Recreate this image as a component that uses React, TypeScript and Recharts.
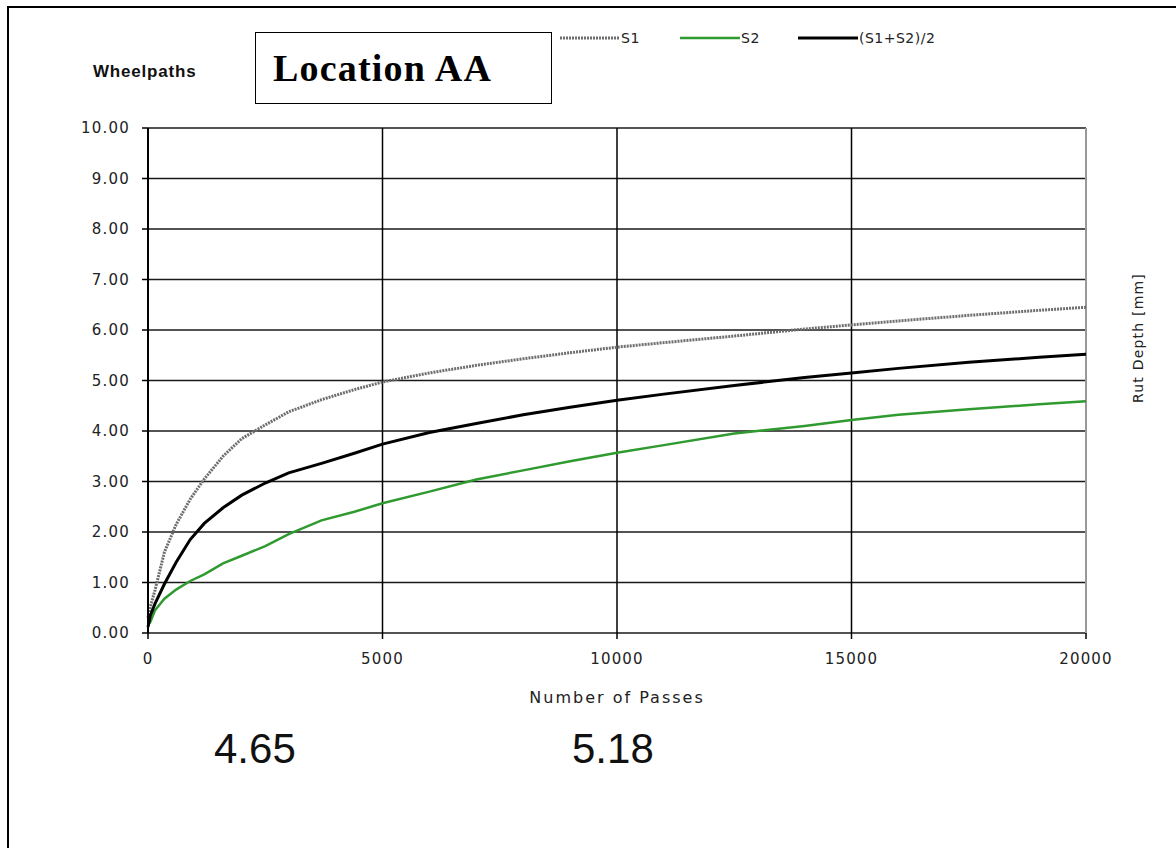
import React from 'react';
import { LineChart, Line, XAxis, YAxis, CartesianGrid, ReferenceLine } from 'recharts';

const passes = [0, 50, 150, 350, 600, 900, 1200, 1600, 2000, 2500, 3000, 3700, 4400, 5000, 6000, 7000, 8000, 9000, 10000, 11000, 12500, 14000, 15000, 16000, 17500, 19000, 20000];
const s1 = [0.3, 0.52, 0.85, 1.6, 2.15, 2.65, 3.05, 3.5, 3.85, 4.12, 4.38, 4.62, 4.82, 4.97, 5.15, 5.3, 5.43, 5.55, 5.66, 5.75, 5.88, 6.02, 6.1, 6.18, 6.29, 6.39, 6.45];
const s2 = [0.15, 0.22, 0.45, 0.68, 0.86, 1.03, 1.16, 1.38, 1.53, 1.72, 1.96, 2.23, 2.4, 2.57, 2.8, 3.04, 3.22, 3.4, 3.57, 3.72, 3.95, 4.1, 4.22, 4.32, 4.43, 4.53, 4.59];
const avg = [0.12, 0.35, 0.58, 0.97, 1.4, 1.85, 2.17, 2.48, 2.73, 2.97, 3.17, 3.36, 3.56, 3.74, 3.97, 4.15, 4.32, 4.47, 4.61, 4.73, 4.9, 5.06, 5.15, 5.24, 5.36, 5.46, 5.52];

const xTicks = [0, 5000, 10000, 15000, 20000];
const yTicks = [0, 1, 2, 3, 4, 5, 6, 7, 8, 9, 10];
const summary = ['4.65', '5.18'];

const data = passes.map((p, i) => ({ passes: p, s1: s1[i], s2: s2[i], avg: avg[i] }));

const tickFont = { fontFamily: 'DejaVu Sans', fontSize: 15, fill: '#222', letterSpacing: 1.2 };
const smallFont: React.CSSProperties = { fontFamily: 'DejaVu Sans', fontSize: 14, color: '#222', letterSpacing: 0.5 };

const S1_STYLE = { stroke: '#6e6e6e', strokeWidth: 3, strokeDasharray: '2 1' };
const S2_STYLE = { stroke: '#2f9a2f', strokeWidth: 2.5, strokeDasharray: undefined as string | undefined };
const AVG_STYLE = { stroke: '#000', strokeWidth: 3, strokeDasharray: undefined as string | undefined };

const LegendItem = ({ left, label, style }: { left: number; label: string; style: any }) => (
  <div style={{ position: 'absolute', left, top: 28, display: 'flex', alignItems: 'center', height: 20 }}>
    <svg width={60} height={20}>
      <line x1={0} x2={60} y1={10} y2={10} {...style} />
    </svg>
    <span style={{ ...smallFont, marginLeft: 1 }}>{label}</span>
  </div>
);

export default function App() {
  return (
    <div style={{ position: 'absolute', left: 0, top: 0, width: 1176, height: 848, background: '#fff', overflow: 'hidden' }}>
      {/* frame: top and left edges only */}
      <div style={{ position: 'absolute', left: 7, top: 6, width: 1176, height: 900, borderTop: '2px solid #000', borderLeft: '2px solid #000' }} />

      <LineChart width={1176} height={848} data={data} margin={{ top: 128, right: 90, bottom: 185, left: 88 }}>
        <CartesianGrid vertical={false} stroke="#000" strokeWidth={1.5} strokeOpacity={0.9} />
        <XAxis
          dataKey="passes"
          type="number"
          domain={[0, 20000]}
          ticks={xTicks}
          interval={0}
          axisLine={false}
          tickLine={{ stroke: '#000', strokeWidth: 1.5 }}
          tickSize={6}
          tickMargin={14}
          height={30}
          tick={tickFont}
        />
        <YAxis
          type="number"
          domain={[0, 10]}
          ticks={yTicks}
          interval={0}
          width={60}
          axisLine={{ stroke: '#000', strokeWidth: 2 }}
          tickLine={{ stroke: '#000', strokeWidth: 1.5 }}
          tickSize={6}
          tickMargin={12}
          tickFormatter={(v: number) => v.toFixed(2)}
          tick={tickFont}
        />
        <ReferenceLine x={5000} stroke="#000" strokeWidth={1.5} />
        <ReferenceLine x={10000} stroke="#000" strokeWidth={1.5} />
        <ReferenceLine x={15000} stroke="#000" strokeWidth={1.5} />
        <ReferenceLine x={20000} stroke="#999" strokeWidth={2} />
        <Line type="linear" dataKey="s1" dot={false} isAnimationActive={false} {...S1_STYLE} />
        <Line type="linear" dataKey="s2" dot={false} isAnimationActive={false} {...S2_STYLE} />
        <Line type="linear" dataKey="avg" dot={false} isAnimationActive={false} {...AVG_STYLE} />
      </LineChart>

      <div style={{ position: 'absolute', left: 93, top: 62, fontFamily: 'Liberation Sans', fontWeight: 'bold', fontSize: 17, letterSpacing: 0.8, color: '#111' }}>
        Wheelpaths
      </div>
      <div style={{ position: 'absolute', left: 255, top: 32, width: 295, height: 70, border: '1.5px solid #000', boxSizing: 'content-box' }}>
        <div style={{ position: 'absolute', left: 17, top: 15, fontFamily: 'Liberation Serif', fontWeight: 'bold', fontSize: 38, letterSpacing: 1.2, lineHeight: '40px', whiteSpace: 'nowrap' }}>
          Location AA
        </div>
      </div>
      <LegendItem left={560} label="S1" style={S1_STYLE} />
      <LegendItem left={680} label="S2" style={S2_STYLE} />
      <LegendItem left={798} label="(S1+S2)/2" style={AVG_STYLE} />

      <div style={{ position: 'absolute', left: 617, top: 697, transform: 'translate(-50%, -50%)', ...smallFont, fontSize: 16, letterSpacing: 2, whiteSpace: 'nowrap' }}>
        Number of Passes
      </div>
      <div style={{ position: 'absolute', left: 1138, top: 338, transform: 'translate(-50%, -50%) rotate(-90deg)', ...smallFont, fontSize: 14, letterSpacing: 1.2, whiteSpace: 'nowrap' }}>
        Rut Depth [mm]
      </div>
      <div style={{ position: 'absolute', left: 214, top: 726, fontFamily: 'Liberation Sans', fontSize: 42, lineHeight: '46px', color: '#111' }}>
        {summary[0]}
      </div>
      <div style={{ position: 'absolute', left: 572, top: 726, fontFamily: 'Liberation Sans', fontSize: 42, lineHeight: '46px', color: '#111' }}>
        {summary[1]}
      </div>
    </div>
  );
}
